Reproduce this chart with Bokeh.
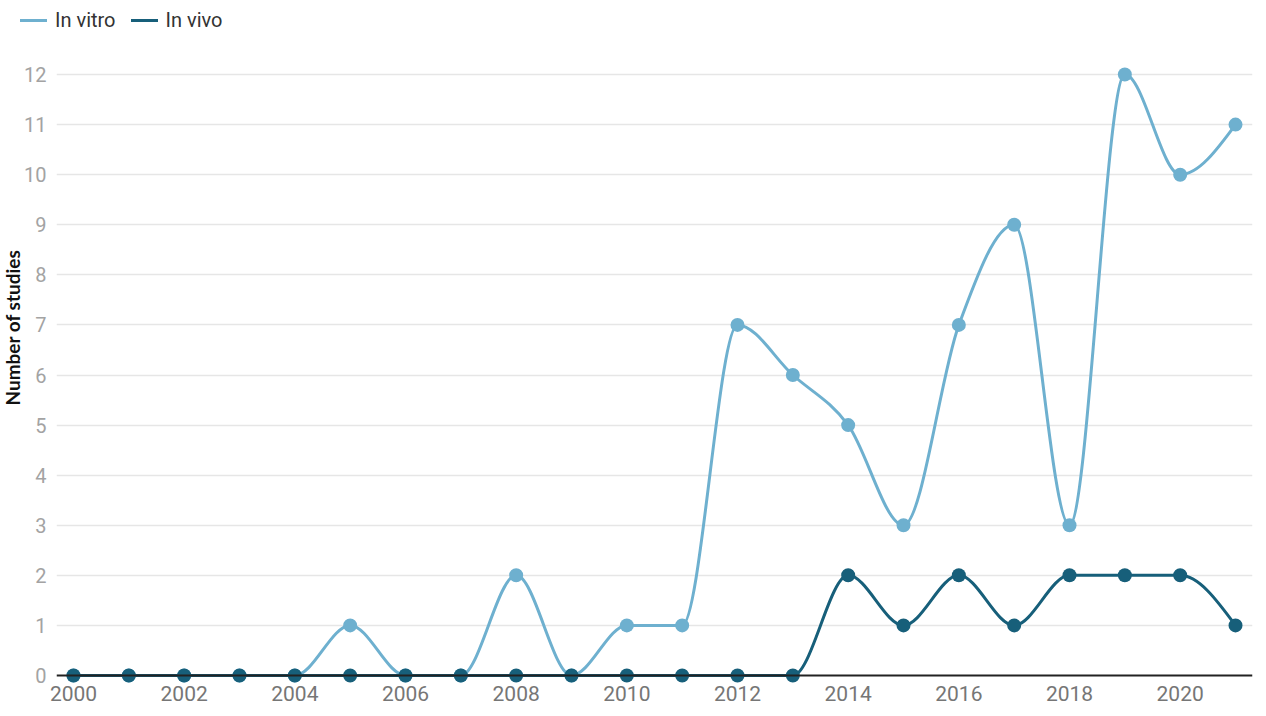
from bokeh.plotting import figure
from bokeh.layouts import column
from bokeh.models import (ColumnDataSource, FixedTicker, Span, Legend, LegendItem,
                          Title, Range1d)
from bokeh.embed import file_html
from bokeh.resources import INLINE
import numpy as np

years = list(range(2000, 2022))
in_vitro = [0, 0, 0, 0, 0, 1, 0, 0, 2, 0, 1, 1, 7, 6, 5, 3, 7, 9, 3, 12, 10, 11]
in_vivo = [0, 0, 0, 0, 0, 0, 0, 0, 0, 0, 0, 0, 0, 0, 2, 1, 2, 1, 2, 2, 2, 1]
x_ticks = [2000, 2002, 2004, 2006, 2008, 2010, 2012, 2014, 2016, 2018, 2020]
y_ticks = [0, 1, 2, 3, 4, 5, 6, 7, 8, 9, 10, 11, 12]
series_names = ["In vitro", "In vivo"]
series_colors = ["#6eb0cf", "#175f7a"]


def monotone_segments(xs, ys):
    """Cubic Bezier segments of a monotone-X curve through the data points."""
    xs = np.asarray(xs, float)
    ys = np.asarray(ys, float)
    n = len(xs)
    h = np.diff(xs)
    s = np.diff(ys) / h
    t = np.zeros(n)
    for i in range(1, n - 1):
        h0, h1 = h[i - 1], h[i]
        s0, s1 = s[i - 1], s[i]
        p = (s0 * h1 + s1 * h0) / (h0 + h1)
        t[i] = (np.sign(s0) + np.sign(s1)) * min(abs(s0), abs(s1), 0.5 * abs(p))
    t[0] = (3 * s[0] - t[1]) / 2
    t[-1] = (3 * s[-1] - t[-2]) / 2
    dx = h / 3
    return dict(
        x0=xs[:-1], y0=ys[:-1], x1=xs[1:], y1=ys[1:],
        cx0=xs[:-1] + dx, cy0=ys[:-1] + dx * t[:-1],
        cx1=xs[1:] - dx, cy1=ys[1:] - dx * t[1:],
    )


W = 1260

# ---- legend strip on top ----
lg = figure(width=W, height=40, x_range=Range1d(0, 1), y_range=Range1d(0, 1),
            output_backend="svg", toolbar_location=None,
            x_axis_location=None, y_axis_location=None,
            min_border_left=0, min_border_right=0, min_border_top=0, min_border_bottom=0)
lg.outline_line_color = None
lg.xgrid.visible = False
lg.ygrid.visible = False
lg_items = []
for name, vals, color in zip(series_names, [in_vitro, in_vivo], series_colors):
    r = lg.line(x=years, y=vals, line_color=color, line_width=3, line_cap="round",
                visible=False)
    lg_items.append(LegendItem(label=name, renderers=[r]))
legend = Legend(
    items=lg_items, orientation="horizontal", location=(20, 8),
    label_text_font="Roboto", label_text_font_size="20px", label_text_color="#333333",
    glyph_width=27, glyph_height=20, label_height=20, label_standoff=8, spacing=15,
    padding=0, margin=0, border_line_color=None, background_fill_alpha=0,
    inactive_fill_alpha=0,
)
lg.add_layout(legend)

# ---- main chart ----
p = figure(
    width=W, height=672,
    x_range=Range1d(1999.693, 2021.307),
    y_range=Range1d(-0.2, 12.3),
    output_backend="svg", toolbar_location=None,
    min_border_left=54, min_border_right=8, min_border_top=19, min_border_bottom=27,
)
p.outline_line_color = None
p.background_fill_color = "white"

for fig in (lg, p):
    if hasattr(fig, "frame_align"):
        fig.frame_align = False

p.xaxis.ticker = FixedTicker(ticks=x_ticks)
p.yaxis.ticker = FixedTicker(ticks=y_ticks)
for ax in (p.xaxis[0], p.yaxis[0]):
    ax.axis_line_color = None
    ax.major_tick_line_color = None
    ax.minor_tick_line_color = None
    ax.major_tick_out = 0
    ax.major_tick_in = 0
    ax.major_label_text_font = "Roboto"
p.xaxis.major_label_text_font_size = "21px"
p.yaxis.major_label_text_font_size = "20px"
p.xaxis.major_label_text_color = "#767676"
p.yaxis.major_label_text_color = "#a3a3a3"
p.xaxis.major_label_standoff = 0
p.yaxis.major_label_standoff = 10

p.xgrid.grid_line_color = None
p.ygrid.grid_line_color = "#e6e6e6"
p.ygrid.grid_line_width = 1.6
p.ygrid.ticker = FixedTicker(ticks=y_ticks[1:])

for name, vals, color in zip(series_names, [in_vitro, in_vivo], series_colors):
    seg = ColumnDataSource(monotone_segments(years, vals))
    p.bezier(x0="x0", y0="y0", x1="x1", y1="y1", cx0="cx0", cy0="cy0",
             cx1="cx1", cy1="cy1", source=seg, line_color=color,
             line_width=3, line_cap="round")
    p.scatter(x=years, y=vals, size=14, fill_color=color, line_color=None)

base = Span(location=0, dimension="width", line_color="#222222", line_width=2)
p.add_layout(base)

ytitle = Title(
    text="Number of studies", align="left", offset=280,
    text_font="Lato", text_font_style="bold", text_font_size="19px",
    text_color="#111111", standoff=-4,
)
p.add_layout(ytitle, "left")

layout = column(lg, p, spacing=0)
open("out.html", "w").write(file_html(layout, INLINE))
